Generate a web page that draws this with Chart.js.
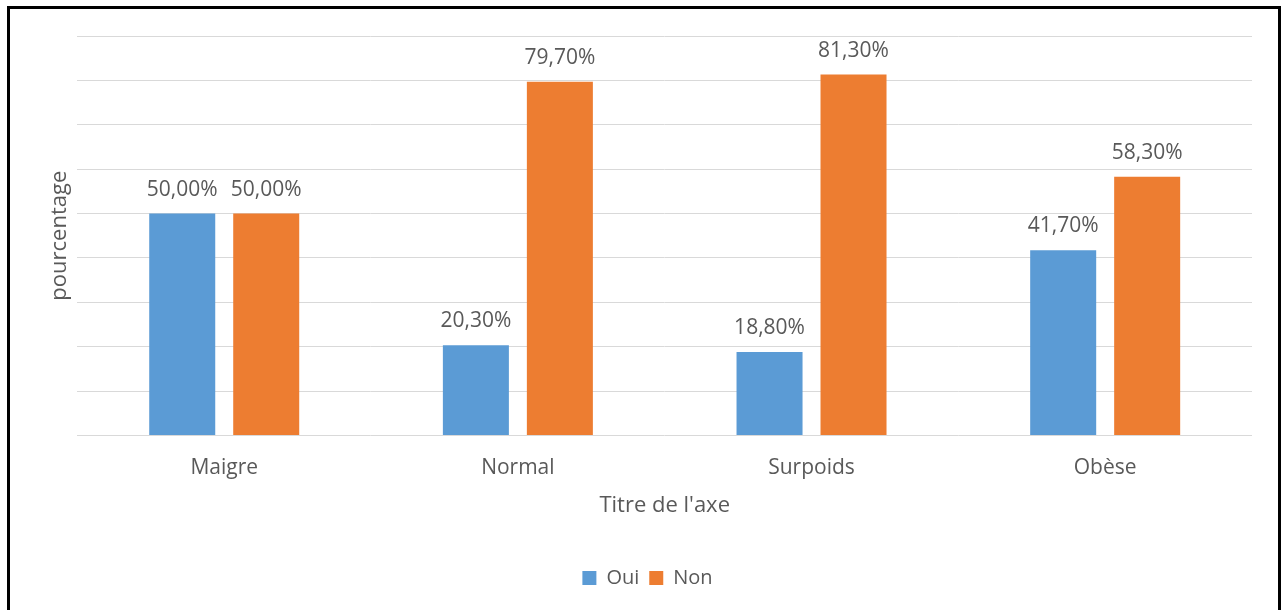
<!DOCTYPE html>
<html>
<head>
<meta charset="utf-8">
<script src="https://cdn.jsdelivr.net/npm/chart.js@4"></script>
<style>
  html, body { margin: 0; padding: 0; background: #fff; overflow: hidden; }
  #wrap { position: relative; width: 1285px; height: 610px; }
  #frame {
    position: absolute; left: 7px; top: 6px; width: 1274px; height: 640px;
    border: 3px solid #000; box-sizing: border-box; pointer-events: none;
  }
  canvas { position: absolute; left: 0; top: 0; }
</style>
</head>
<body>
<div id="wrap">
  <canvas id="myChart" width="1285" height="610"></canvas>
  <div id="frame"></div>
</div>
<script>
const categories = ["Maigre", "Normal", "Surpoids", "Obèse"];
const ouiValues = [50.0, 20.3, 18.8, 41.7];
const nonValues = [50.0, 79.7, 81.3, 58.3];

const textColor = '#595959';
const fontFamily = "'Open Sans', 'Noto Sans', sans-serif";

// écrit la valeur au-dessus de chaque barre
const valueLabels = {
  id: 'valueLabels',
  afterDatasetsDraw(chart) {
    const ctx = chart.ctx;
    ctx.save();
    ctx.font = '21px ' + fontFamily;
    ctx.fillStyle = textColor;
    ctx.textAlign = 'center';
    ctx.textBaseline = 'alphabetic';
    chart.data.datasets.forEach((ds, i) => {
      chart.getDatasetMeta(i).data.forEach((bar, j) => {
        const txt = ds.data[j].toFixed(2).replace('.', ',') + '%';
        ctx.fillText(txt, bar.x, bar.y - 18);
      });
    });
    ctx.restore();
  }
};

const myChart = new Chart(document.getElementById("myChart").getContext("2d"), {
  type: "bar",
  data: {
    labels: categories,
    datasets: [
      {
        label: 'Oui',
        data: ouiValues,
        backgroundColor: '#5B9BD5',
        categoryPercentage: 0.572,
        barPercentage: 0.786,
      },
      {
        label: 'Non',
        data: nonValues,
        backgroundColor: '#ED7D31',
        categoryPercentage: 0.572,
        barPercentage: 0.786,
      }
    ]
  },
  options: {
    responsive: false,
    animation: false,
    layout: { padding: { left: 43, right: 33, top: 36, bottom: 12 } },
    plugins: {
      tooltip: { enabled: false },
      legend: {
        position: 'bottom',
        labels: {
          boxWidth: 14,
          boxHeight: 14,
          padding: 10,
          color: textColor,
          font: { family: fontFamily, size: 20 }
        }
      }
    },
    scales: {
      x: {
        grid: { display: false },
        border: { display: false },
        ticks: {
          color: textColor,
          padding: 12,
          font: { family: fontFamily, size: 21 }
        },
        title: {
          display: true,
          text: "Titre de l'axe",
          color: textColor,
          padding: { top: 0, bottom: 39 },
          font: { family: fontFamily, size: 22 }
        }
      },
      y: {
        min: 0,
        max: 90,
        ticks: { display: false, stepSize: 10 },
        grid: { color: '#d9d9d9', lineWidth: 1, drawTicks: false },
        border: { display: false },
        title: {
          display: true,
          text: 'pourcentage',
          color: textColor,
          font: { family: fontFamily, size: 22 }
        }
      }
    }
  },
  plugins: [valueLabels]
});
</script>
</body>
</html>
